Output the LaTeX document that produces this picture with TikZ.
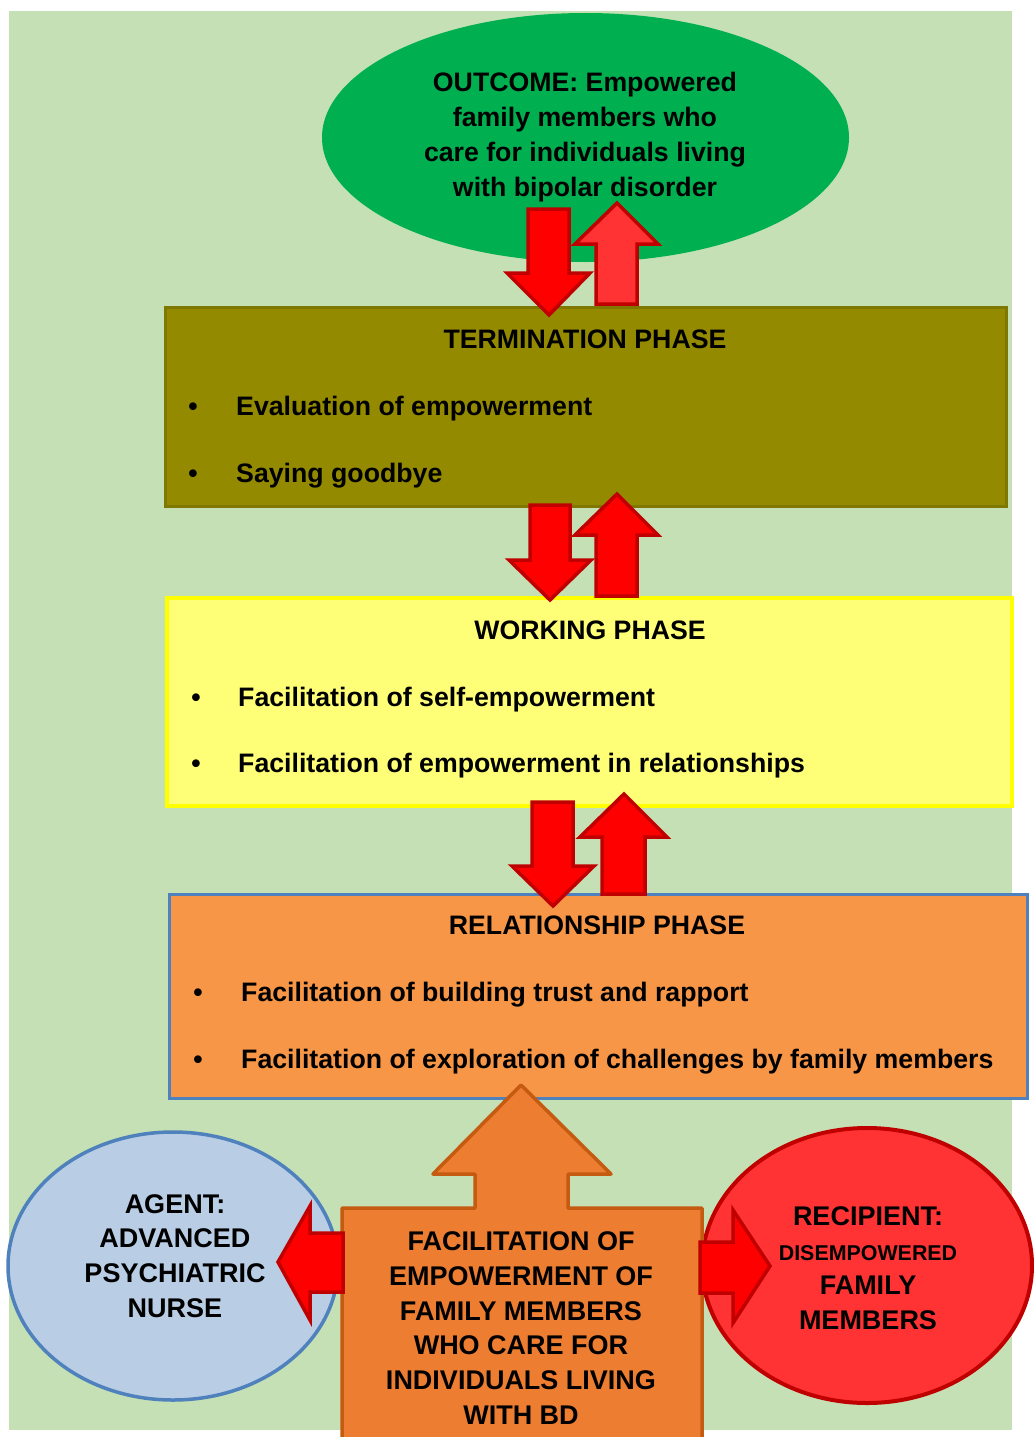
\documentclass[tikz,border=0pt]{standalone}
\usepackage{fontspec}
\setmainfont{Liberation Sans}
\usetikzlibrary{shapes.geometric}
\definecolor{bggreen}{HTML}{C5E0B4}
\definecolor{outgreen}{HTML}{00B050}
\definecolor{olivefill}{HTML}{948A00}
\definecolor{olivedraw}{HTML}{7F7800}
\definecolor{yelfill}{HTML}{FFFF77}
\definecolor{yeldraw}{HTML}{FFFF00}
\definecolor{orfill}{HTML}{F79646}
\definecolor{bluedraw}{HTML}{4F81BD}
\definecolor{bluefill}{HTML}{B9CDE5}
\definecolor{arrred}{HTML}{FF0000}
\definecolor{arrlight}{HTML}{FF3333}
\definecolor{arrdark}{HTML}{C00000}
\definecolor{bigfill}{HTML}{ED7D31}
\definecolor{bigdraw}{HTML}{C55A11}
\tikzset{
  redarrow/.style={fill=arrred, draw=arrdark, line width=3.5pt, line join=miter},
  phasebox/.style={rectangle, inner sep=0pt},
  txt/.style={font=\bfseries\fontsize{26.7}{35}\selectfont, inner sep=0pt, text=black},
  bigtxt/.style={font=\bfseries\fontsize{27}{34.8}\selectfont, inner sep=0pt, align=center, text=black},
  bul/.style={txt, anchor=base},
  item/.style={txt, anchor=base west},
  ttl/.style={txt, anchor=base}
}
\begin{document}
\begin{tikzpicture}[x=1pt,y=-1pt]
\useasboundingbox (0,0) rectangle (1033,1437);
\fill[bggreen] (9,11) rectangle (1012,1430);

% outcome
\node[ellipse, fill=outgreen, minimum width=527pt, minimum height=249pt, inner sep=0pt] (outcome) at (585.5,137.5) {};

% phase boxes
\node[phasebox, fill=olivefill, draw=olivedraw, line width=3pt, minimum width=841pt, minimum height=199pt] (term) at (585.5,406.5) {};
\node[phasebox, fill=yelfill, draw=yeldraw, line width=4pt, minimum width=845pt, minimum height=208pt] (work) at (589.5,702) {};
\node[phasebox, fill=orfill, draw=bluedraw, line width=3pt, minimum width=858pt, minimum height=204pt] (rel) at (598,996) {};

% arrow pair 1
\draw[redarrow] (528,209) -- (569,209) -- (569,273) -- (590,273) -- (549,315) -- (507,273) -- (528,273) -- cycle;
\draw[redarrow, fill=arrlight] (596,304) -- (596,244) -- (575,244) -- (617,203) -- (658,244) -- (637,244) -- (637,304) -- cycle;
% arrow pair 2
\draw[redarrow] (530,505) -- (570,505) -- (570,560) -- (591,560) -- (550,600) -- (509,560) -- (530,560) -- cycle;
\draw[redarrow] (596,596) -- (596,535) -- (575,535) -- (617,494) -- (658,535) -- (637,535) -- (637,596) -- cycle;
% arrow pair 3
\draw[redarrow] (532,802) -- (573,802) -- (573,866) -- (594,866) -- (553,906) -- (512,866) -- (532,866) -- cycle;
\draw[redarrow] (602,894) -- (602,837) -- (580,837) -- (624,794) -- (667,837) -- (645,837) -- (645,894) -- cycle;

% agent and recipient
\node[ellipse, fill=bluefill, draw=bluedraw, line width=3.5pt, minimum width=330pt, minimum height=268pt, inner sep=0pt] (agent) at (173,1266) {};
\node[ellipse, fill=arrlight, draw=arrdark, line width=4pt, minimum width=330pt, minimum height=275pt, inner sep=0pt] (recip) at (867,1265.5) {};

% big facilitation arrow
\draw[fill=bigfill, draw=bigdraw, line width=3.5pt, line join=round]
  (342,1445) -- (342,1208) -- (475,1208) -- (475,1174) -- (433,1174) -- (521,1085) -- (611,1174) -- (568,1174) -- (568,1208) -- (702,1208) -- (702,1445);

% side arrows
\draw[redarrow] (343,1233) -- (310,1233) -- (310,1206) -- (278,1262) -- (310,1320) -- (310,1292) -- (343,1292) -- cycle;
\draw[redarrow] (700,1242) -- (733,1242) -- (733,1210) -- (770,1266) -- (733,1323) -- (733,1293) -- (700,1293) -- cycle;

% texts
\node[txt, align=center] (outtxt) at (585,137) {OUTCOME: Empowered\\family members who\\care for individuals living\\with bipolar disorder};

\node[ttl] (termttl) at (585,348.5) {TERMINATION PHASE};
\node[bul] (tb1) at (193,415.5) {\textbullet};
\node[item] (ti1) at (236,415.5) {Evaluation of empowerment};
\node[bul] (tb2) at (193,482.5) {\textbullet};
\node[item] (ti2) at (236,482.5) {Saying goodbye};

\node[ttl] (workttl) at (590,639.5) {WORKING PHASE};
\node[bul] (wb1) at (196,706.5) {\textbullet};
\node[item] (wi1) at (238,706.5) {Facilitation of self-empowerment};
\node[bul] (wb2) at (196,772.5) {\textbullet};
\node[item] (wi2) at (238,772.5) {Facilitation of empowerment in relationships};

\node[ttl] (relttl) at (597,934.5) {RELATIONSHIP PHASE};
\node[bul] (rb1) at (198,1001.5) {\textbullet};
\node[item] (ri1) at (241,1001.5) {Facilitation of building trust and rapport};
\node[bul] (rb2) at (198,1068.5) {\textbullet};
\node[item] (ri2) at (241,1068.5) {Facilitation of exploration of challenges by family members};

\node[bigtxt] (factxt) at (521,1328) {FACILITATION OF\\EMPOWERMENT OF\\FAMILY MEMBERS\\WHO CARE FOR\\INDIVIDUALS LIVING\\WITH BD};
\node[bigtxt] (agenttxt) at (175,1256) {AGENT:\\ADVANCED\\PSYCHIATRIC\\NURSE};
\node[bigtxt, font=\bfseries\fontsize{27}{34.5}\selectfont] (reciptxt) at (868,1268) {RECIPIENT:\\{\fontsize{21.4}{22}\selectfont DISEMPOWERED}\\FAMILY\\MEMBERS};
\end{tikzpicture}
\end{document}
